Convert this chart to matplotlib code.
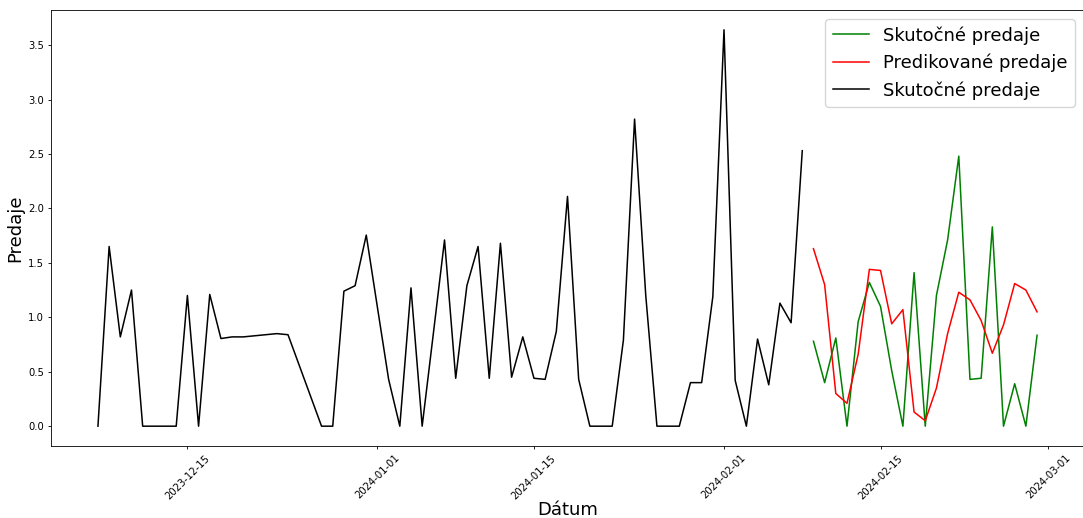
import pandas as pd
import matplotlib.pyplot as plt
import matplotlib.dates as mdates

# historical sales (black)
hist_dates = ["2023-12-07", "2023-12-08", "2023-12-09", "2023-12-10", "2023-12-11",
              "2023-12-12", "2023-12-13", "2023-12-14", "2023-12-15", "2023-12-16",
              "2023-12-17", "2023-12-18", "2023-12-19", "2023-12-20", "2023-12-21",
              "2023-12-22", "2023-12-23", "2023-12-24", "2023-12-27", "2023-12-28",
              "2023-12-29", "2023-12-30", "2023-12-31", "2024-01-01", "2024-01-02",
              "2024-01-03", "2024-01-04", "2024-01-05", "2024-01-06", "2024-01-07",
              "2024-01-08", "2024-01-09", "2024-01-10", "2024-01-11", "2024-01-12",
              "2024-01-13", "2024-01-14", "2024-01-15", "2024-01-16", "2024-01-17",
              "2024-01-18", "2024-01-19", "2024-01-20", "2024-01-21", "2024-01-22",
              "2024-01-23", "2024-01-24", "2024-01-25", "2024-01-26", "2024-01-27",
              "2024-01-28", "2024-01-29", "2024-01-30", "2024-01-31", "2024-02-01",
              "2024-02-02", "2024-02-03", "2024-02-04", "2024-02-05", "2024-02-06",
              "2024-02-07", "2024-02-08"]
hist_sales = [0.0, 1.65, 0.82, 1.25, 0.0,
              0.0, 0.0, 0.0, 1.2, 0.0,
              1.21, 0.805, 0.82, 0.82, 0.83,
              0.84, 0.85, 0.84, 0.0, 0.0,
              1.24, 1.29, 1.755, 1.09, 0.43,
              0.0, 1.27, 0.0, 0.85, 1.71,
              0.44, 1.29, 1.65, 0.44, 1.68,
              0.45, 0.82, 0.44, 0.43, 0.87,
              2.11, 0.43, 0.0, 0.0, 0.0,
              0.79, 2.82, 1.2, 0.0, 0.0,
              0.0, 0.40, 0.40, 1.19, 3.64,
              0.42, 0.0, 0.80, 0.38, 1.13,
              0.95, 2.53]

# test period
test_dates = pd.date_range("2024-02-09", "2024-02-29", freq="D")
actual_sales = [0.78, 0.40, 0.81, 0.0, 0.96, 1.32, 1.10, 0.51, 0.0, 1.41, 0.0,
                1.20, 1.71, 2.48, 0.43, 0.44, 1.83, 0.0, 0.39, 0.0, 0.835]
pred_sales = [1.63, 1.30, 0.30, 0.21, 0.66, 1.44, 1.43, 0.94, 1.07, 0.13, 0.05,
              0.35, 0.85, 1.23, 1.16, 0.97, 0.67, 0.93, 1.31, 1.25, 1.05]

lw = 1.1
fig = plt.figure(figsize=(10.83, 5.18), dpi=100)
ax = fig.add_axes([51 / 1083, 72 / 518, 1033 / 1083, 436 / 518])

ax.plot(test_dates, actual_sales, color="green", lw=lw, label="Skutočné predaje")
ax.plot(test_dates, pred_sales, color="red", lw=lw, label="Predikované predaje")
ax.plot(pd.to_datetime(hist_dates), hist_sales, color="black", lw=lw, label="Skutočné predaje")

ax.xaxis.set_major_locator(mdates.DayLocator(bymonthday=[1, 15]))
ax.xaxis.set_major_formatter(mdates.DateFormatter("%Y-%m-%d"))
ax.tick_params(labelsize=7.2, length=2.5, width=0.6, pad=2.5)
plt.setp(ax.get_xticklabels(), rotation=45)
for s in ax.spines.values():
    s.set_linewidth(0.6)

ax.set_xlabel("Dátum", fontsize=13, labelpad=0)
ax.set_ylabel("Predaje", fontsize=13, labelpad=3)
ax.legend(fontsize=13, loc="upper right")

fig.savefig("out.png")
